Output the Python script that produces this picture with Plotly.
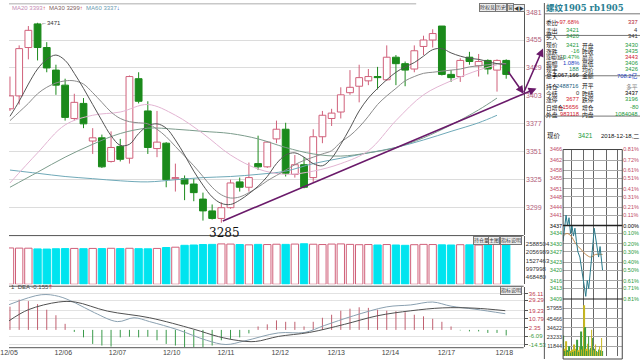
import plotly.graph_objects as go

# ---------------- data ----------------
idx = list(range(1, 56))
opens = [3391, 3403, 3448, 3470, 3448, 3427, 3413, 3382, 3396, 3361,
         3364, 3342, 3356, 3345, 3419, 3389, 3354, 3359, 3326, 3326,
         3321, 3307, 3296, 3289, 3299, 3323, 3318, 3340, 3337, 3363,
         3372, 3330, 3339, 3327, 3365, 3382, 3388, 3406, 3412, 3417,
         3421, 3418, 3439, 3433, 3428, 3449, 3455, 3468, 3423, 3421,
         3439, 3431, 3436, 3427, 3436]
highs = [3421, 3450, 3468, 3471, 3453, 3432, 3419, 3405, 3401, 3373,
         3367, 3370, 3363, 3422, 3425, 3398, 3389, 3360, 3340, 3329,
         3326, 3313, 3302, 3304, 3325, 3327, 3341, 3366, 3361, 3380,
         3378, 3348, 3346, 3372, 3389, 3391, 3411, 3427, 3432, 3428,
         3430, 3450, 3441, 3435, 3450, 3459, 3465, 3468, 3427, 3438,
         3444, 3442, 3437, 3437, 3437]
lows = [3389, 3395, 3437, 3436, 3425, 3404, 3380, 3380, 3373, 3349,
        3336, 3341, 3342, 3340, 3396, 3349, 3346, 3318, 3314, 3306,
        3305, 3287, 3288, 3285, 3298, 3314, 3314, 3334, 3336, 3359,
        3328, 3327, 3317, 3323, 3359, 3375, 3382, 3404, 3397, 3413,
        3409, 3417, 3413, 3412, 3425, 3441, 3448, 3422, 3416, 3416,
        3432, 3421, 3423, 3407, 3419]
closes = [3403, 3447, 3464, 3448, 3429, 3413, 3383, 3397, 3377, 3364,
          3337, 3355, 3344, 3421, 3398, 3355, 3360, 3325, 3327, 3321,
          3313, 3296, 3289, 3299, 3322, 3318, 3327, 3337, 3360, 3372,
          3331, 3339, 3318, 3365, 3385, 3387, 3404, 3411, 3420, 3421,
          3420, 3439, 3433, 3427, 3445, 3455, 3461, 3423, 3420, 3436,
          3435, 3435, 3428, 3436, 3423]

date_ticks = [0.9, 6.8, 12.7, 18.6, 24.5, 30.4, 36.5, 42.4, 48.5, 54.8]
date_labels = ["12/05", "12/06", "12/07", "12/10", "12/11", "12/12",
               "12/13", "12/14", "12/17", "12/18"]
price_ticks = [3481, 3455, 3429, 3403, 3377, 3351, 3325, 3299]

ma5 = [3384, 3398, 3414, 3428, 3437, 3441, 3436, 3424, 3410, 3395,
       3380, 3366, 3357, 3358, 3368, 3375, 3377, 3373, 3362, 3348,
       3333, 3320, 3309, 3303, 3302, 3306, 3312, 3319, 3328, 3340,
       3348, 3350, 3346, 3340, 3338, 3345, 3358, 3373, 3389, 3401,
       3410, 3418, 3425, 3430, 3434, 3440, 3446, 3447, 3443, 3440,
       3438, 3437, 3435, 3433, 3432]
ma10 = [3380, 3388, 3396, 3405, 3411, 3415, 3417, 3417, 3414, 3406,
        3397, 3388, 3382, 3379, 3378, 3377, 3372, 3365, 3356, 3347,
        3338, 3328, 3318, 3311, 3308, 3309, 3313, 3318, 3324, 3329,
        3334, 3339, 3343, 3346, 3349, 3352, 3360, 3366, 3374, 3384,
        3395, 3403, 3410, 3417, 3421, 3424, 3425, 3426, 3427, 3428,
        3430, 3431, 3432, 3433, 3433]
ma_x = [1, 4, 7, 10, 13, 16, 19, 22, 25, 28, 31, 34, 37, 40, 43, 46, 49, 52, 54]
ma20 = [3322, 3350, 3376, 3385, 3388, 3395, 3385, 3368, 3348, 3335, 3330, 3333,
        3340, 3352, 3380, 3404, 3417, 3427, 3432]
ma30 = [3318, 3332, 3346, 3358, 3368, 3373, 3372, 3370, 3368, 3363, 3355, 3349,
        3347, 3350, 3355, 3364, 3376, 3390, 3401]
ma60 = [3334, 3331, 3328, 3326, 3324, 3323, 3325, 3327, 3328, 3330, 3333, 3340,
        3345, 3350, 3355, 3362, 3370, 3378, 3385]

trend_x = [24, 58.3]
trend_y = [3286, 3410]
down_arrow_x = [55.1, 56.9]
down_arrow_y = [3427, 3405]
up_arrow_x = [56.85, 59.0]
up_arrow_y = [3405, 3447]

oi = [2330000, 2320000, 2315000, 2270000, 2260000, 2280000, 2290000, 2300000, 2285000, 2300000,
      2290000, 2310000, 2290000, 2310000, 2285000, 2275000, 2300000, 2360000, 2380000, 2500000,
      2520000, 2550000, 2560000, 2590000, 2580000, 2550000, 2530000, 2560000, 2550000, 2570000,
      2560000, 2580000, 2600000, 2570000, 2550000, 2580000, 2590000, 2560000, 2540000, 2550000,
      2520000, 2550000, 2520000, 2500000, 2540000, 2560000, 2550000, 2530000, 2520000, 2540000,
      2530000, 2520000, 2540000, 2550000, 2520000]
oi_cyan = "HHHCCCCHCHCHCHCCHCHCCCCHHCHCHHCHCHHHHHHHCHCCHHHCCHCHCHC"
oi_ticks = [2588504, 2056989, 1527463, 997998, 468480]

macd_hist = [23, 30, 28.5, 25.5, 20, 14.5, 6, -2, -7.4, -13.9,
             -15.5, -16.5, -7.4, -6.8, -7.4, -6.8, -10.3, -13.9, -15.5, -17.1,
             -17.1, -17.1, -15.5, -10.3, -8.9, -7.4, -3.5, 3.4, 5.5, 9.4,
             8, 8, 3.4, 8, 12, 15, 19, 21, 22.4, 21.8,
             20, 19, 18.5, 17.5, 15, 13.4, 11, 8, 3.4, -0.5,
             -1.5, -1.5, -3, -3, -5.5]
dif_x = [0.9, 4.4, 6.3, 8.1, 10.2, 12.7, 14.5, 16.2, 19.3, 22.4, 24.5, 26.5,
         30.2, 33.1, 35.2, 38.4, 42, 44.6, 47, 49, 51.6, 54.9]
dif = [25, 34.8, 33.2, 26.7, 17, 8.2, 12, 8.2, 0, -10.3, -14.5, -11,
       -3, -2.5, 4.3, 14, 22.8, 24.7, 27.6, 23.5, 20.5, 16]
dea_x = [0.9, 3, 6.3, 8.1, 11.6, 16.2, 21, 23.7, 25.9, 27.7, 30.2, 33.6, 37.4,
         41, 44.6, 48.1, 51.6, 54.9]
dea = [9, 20, 27.6, 27.6, 18.6, 12, 0.7, -6.7, -10.6, -11.5, -6.5, -2.5, 5.5,
       14, 18.9, 21.8, 21.5, 19]
macd_ticks = [36.11, 29.29, 19.23, 10.79, 2.35, -6.09, -14.53]

# right panel quote table
q_rows_y = [15, 23, 29, 39, 45, 51, 57, 63, 69, 80, 87, 94, 102, 109]
q_lab1 = ["委比", "卖出", "买入", "现价", "涨跌", "涨幅(结)", "振幅", "现手", "总手",
          "持仓", "今结", "涨停", "日增仓", "外盘"]
q_val1 = ["+97.68%", "3421", "3420", "3421", "-16", "-0.47%", "1.08%", "188",
          "2,067,166", "2488716", "0", "3677", "+15656", "983118"]
q_col1 = ["#d02030", "#1a9a3a", "#1a9a3a", "#1a9a3a", "#1a9a3a", "#1a9a3a", "#2040c0",
          "#1a8a6a", "#000000", "#206080", "#333333", "#d02030", "#d02030", "#d02030"]
q_lab2 = ["", "", "", "开盘", "昨收", "最高", "最低", "均价", "金额", "开平", "昨结",
          "跌停", "增仓", "内盘"]
q_val2 = ["337", "4", "341", "3430", "3435", "3443", "3406", "3426", "708.2亿",
          "多平", "3437", "3196", "-80", "1084048"]
q_col2 = ["#b02030", "#333333", "#333333", "#1a9a3a", "#1a9a3a", "#d02030", "#1a9a3a",
          "#1a9a3a", "#2040c0", "#888888", "#000000", "#1a9a3a", "#1a9a3a", "#1a9a3a"]

# intraday mini chart
id_ticks = [3466, 3462, 3458, 3455, 3451, 3448, 3444, 3441, 3437, 3434, 3430,
            3427, 3423, 3420, 3416, 3413, 3409]
id_pct = ["0.81%", "0.72%", "0.61%", "0.51%", "0.41%", "0.31%", "0.21%", "0.11%",
          "0.00%", "0.10%", "0.20%", "0.30%", "0.40%", "0.50%", "0.61%", "0.71%", "0.81%"]
id_t = [0, 1.5, 3, 4.5, 6, 7.5, 9, 10.5, 12, 13.5, 15, 17, 18.5, 20, 21.5, 23,
        24.5, 26, 27.5, 29, 30.5, 31.5, 33, 34.5, 36, 37.5, 39, 40]
id_p = [3431, 3436, 3441, 3437, 3440, 3434, 3437, 3433, 3436, 3431, 3427, 3425,
        3421, 3418, 3415, 3410, 3416, 3413, 3419, 3424, 3431, 3436, 3432, 3428,
        3425, 3429, 3424, 3420]
id_avg_t = [0, 4, 8, 13, 18, 23, 28, 33, 40]
id_avg = [3433, 3434, 3433, 3430, 3428, 3426, 3425, 3426, 3426]
iv_ticks = [57955, 45466, 34622, 23233, 11844]
iv = [25000, 9000, 6000, 18000, 7000, 5000, 12000, 6000, 4000, 8000, 5000,
      14000, 6000, 9000, 20000, 7000, 5000, 11000, 30000, 8000, 12000, 62000,
      35000, 9000, 6000, 15000, 24000, 8000, 10000, 32000, 22000, 7000, 9000,
      14000, 6000, 5000, 8000, 12000, 7000, 22000, 6000]
id_vgrid = [9, 21, 31, 44, 55]

# ---------------- helpers ----------------
W, H = 640, 362


def px(x):
    return x / W


def py(y):
    return 1 - y / H


RED = "#d0607a"
GREEN = "#1b8a1b"
CYAN = "#00e4ef"
PURPLE = "#6a1a6a"

fig = go.Figure()

# candles: wicks
up_x, up_y, dn_x, dn_y = [], [], [], []
for i, o, h, l, c in zip(idx, opens, highs, lows, closes):
    top, bot = max(o, c), min(o, c)
    seg_x = [i, i, None, i, i, None]
    seg_y = [h, top, None, bot, l, None]
    if c >= o:
        up_x += seg_x
        up_y += seg_y
    else:
        dn_x += seg_x
        dn_y += seg_y
fig.add_trace(go.Scatter(x=up_x, y=up_y, mode="lines", line=dict(color=RED, width=1),
                         hoverinfo="skip", xaxis="x", yaxis="y"))
fig.add_trace(go.Scatter(x=dn_x, y=dn_y, mode="lines", line=dict(color=GREEN, width=1),
                         hoverinfo="skip", xaxis="x", yaxis="y"))
# candle bodies
fig.add_trace(go.Bar(
    x=idx, y=[max(abs(c - o), 0.8) for o, c in zip(opens, closes)],
    base=[min(o, c) for o, c in zip(opens, closes)], width=0.74,
    marker=dict(color=["white" if c >= o else GREEN for o, c in zip(opens, closes)],
                line=dict(color=[RED if c >= o else GREEN for o, c in zip(opens, closes)], width=1)),
    xaxis="x", yaxis="y", hoverinfo="skip"))

# moving averages
fig.add_trace(go.Scatter(x=ma_x, y=ma60, mode="lines", line=dict(color="#6fa9b8", width=1, shape="spline"),
                         xaxis="x", yaxis="y"))
fig.add_trace(go.Scatter(x=ma_x, y=ma30, mode="lines", line=dict(color="#7c9c8c", width=1, shape="spline"),
                         xaxis="x", yaxis="y"))
fig.add_trace(go.Scatter(x=ma_x, y=ma20, mode="lines", line=dict(color="#e2b4d2", width=1, shape="spline"),
                         xaxis="x", yaxis="y"))
fig.add_trace(go.Scatter(x=idx, y=ma10, mode="lines", line=dict(color="#8c8c8c", width=1, shape="spline"),
                         xaxis="x", yaxis="y"))
fig.add_trace(go.Scatter(x=idx, y=ma5, mode="lines", line=dict(color="#555555", width=1, shape="spline"),
                         xaxis="x", yaxis="y"))

# open-interest bars
fig.add_trace(go.Bar(
    x=idx, y=oi, width=0.8,
    marker=dict(color=[CYAN if k == "C" else "white" for k in oi_cyan],
                line=dict(color=[CYAN if k == "C" else RED for k in oi_cyan], width=1)),
    xaxis="x", yaxis="y2", hoverinfo="skip"))

# MACD histogram
hp_x, hp_y, hn_x, hn_y = [], [], [], []
for i, v in zip(idx, macd_hist):
    if v >= 0:
        hp_x += [i, i, None]
        hp_y += [0, v, None]
    else:
        hn_x += [i, i, None]
        hn_y += [0, v, None]
fig.add_trace(go.Scatter(x=hp_x, y=hp_y, mode="lines", line=dict(color="#c06070", width=1),
                         xaxis="x", yaxis="y3"))
fig.add_trace(go.Scatter(x=hn_x, y=hn_y, mode="lines", line=dict(color="#3a9a4a", width=1),
                         xaxis="x", yaxis="y3"))
fig.add_trace(go.Scatter(x=dif_x, y=dif, mode="lines", line=dict(color="#8aa0b0", width=1, shape="spline"),
                         xaxis="x", yaxis="y3"))
fig.add_trace(go.Scatter(x=dea_x, y=dea, mode="lines", line=dict(color="#505050", width=1, shape="spline"),
                         xaxis="x", yaxis="y3"))

# intraday chart
fig.add_trace(go.Bar(x=list(range(len(iv))), y=iv, width=0.7,
                     marker=dict(color=["#3a9a3a" if k % 2 == 0 else "#c8b820" for k in range(len(iv))],
                                 line=dict(width=0)),
                     xaxis="x2", yaxis="y5"))
fig.add_trace(go.Scatter(x=id_avg_t, y=id_avg, mode="lines", line=dict(color="#c08a50", width=1, shape="spline"),
                         xaxis="x2", yaxis="y4"))
fig.add_trace(go.Scatter(x=id_t, y=id_p, mode="lines", line=dict(color="#2a7a8a", width=1),
                         xaxis="x2", yaxis="y4"))
fig.add_trace(go.Scatter(x=[None], y=[None], xaxis="x2", yaxis="y6", showlegend=False))


def colspan(t, c):
    return f"<span style='color:{c}'>{t}</span>"


macd_text = [colspan(f"{v:.2f}", "#c03a50" if v > 0 else "#3a9a3a") for v in macd_ticks]
id_text = [colspan(str(v), "#c04a66" if v > 3437 else ("#000000" if v == 3437 else "#2a9a3a")) for v in id_ticks]
pct_text = [colspan(t, "#c04a66" if k < 8 else ("#000000" if k == 8 else "#2a9a3a")) for k, t in enumerate(id_pct)]

FONT = "Liberation Sans, Noto Sans CJK SC, sans-serif"

fig.update_layout(
    width=W, height=H, margin=dict(l=0, r=0, t=0, b=0),
    paper_bgcolor="white", plot_bgcolor="white", showlegend=False,
    barmode="overlay", font=dict(family=FONT, size=7, color="#333"),
    xaxis=dict(domain=[0, px(522)], range=[0.893, 56.9], anchor="y3",
               tickvals=date_ticks, ticktext=date_labels, tickfont=dict(size=7, color="#444"),
               ticklabeloverflow="allow",
               showgrid=False, zeroline=False, showline=False, ticks=""),
    yaxis=dict(domain=[py(236), py(9)], range=[3273.5, 3481.2], side="right", anchor="x",
               tickvals=price_ticks, tickfont=dict(size=7, color="#b0607a"),
               showgrid=True, gridcolor="#dcdcdc", zeroline=False,
               showline=True, linecolor="#555", ticks=""),
    yaxis2=dict(domain=[py(286), py(237)], range=[0, 3093578], side="right", anchor="x",
                tickvals=oi_ticks, ticktext=[str(v) for v in oi_ticks],
                tickfont=dict(size=6, color="#333"), showgrid=False, zeroline=False,
                showline=True, linecolor="#555", ticks=""),
    yaxis3=dict(domain=[py(350), py(289)], range=[-17.14, 42.26], side="right", anchor="x",
                tickvals=macd_ticks, ticktext=macd_text, tickfont=dict(size=6),
                showgrid=True, gridcolor="#e2e2e2", zeroline=False,
                showline=True, linecolor="#555", ticks="outside", ticklen=3, tickcolor="#555"),
    xaxis2=dict(domain=[px(562), px(622)], range=[0, 60], anchor="y5",
                showticklabels=False, tickvals=id_vgrid, showgrid=True, gridcolor="#666",
                zeroline=False, ticks=""),
    yaxis4=dict(domain=[py(301), py(149)], range=[3409, 3466], anchor="x2", side="left",
                tickvals=id_ticks, ticktext=id_text, tickfont=dict(size=5.5),
                showgrid=True, gridcolor="#a8a8a8", zeroline=False, ticks=""),
    yaxis6=dict(overlaying="y4", anchor="x2", side="right", range=[3409, 3466],
                tickvals=id_ticks, ticktext=pct_text, tickfont=dict(size=5.5),
                showgrid=False, zeroline=False, ticks=""),
    yaxis5=dict(domain=[py(359), py(301)], range=[0, 69500], anchor="x2", side="left",
                tickvals=iv_ticks, ticktext=[str(v) for v in iv_ticks],
                tickfont=dict(size=5.5, color="#333"),
                showgrid=True, gridcolor="#a8a8a8", zeroline=False, ticks=""),
)

shapes = []
# panel separators of the main chart
for yy in (236.5, 288, 350.5):
    shapes.append(dict(type="line", xref="paper", yref="paper", x0=0, x1=px(522),
                       y0=py(yy), y1=py(yy), line=dict(color="#555", width=1)))
shapes.append(dict(type="rect", xref="paper", yref="paper", x0=0, x1=px(413), y0=py(1.5), y1=1,
                   fillcolor="#c8c8c8", line=dict(width=0)))
# right panel
shapes.append(dict(type="line", xref="paper", yref="paper", x0=px(543), x1=px(543), y0=0, y1=1,
                   line=dict(color="#555", width=1)))
for yy in (11, 33, 74, 115):
    shapes.append(dict(type="line", xref="paper", yref="paper", x0=px(543), x1=1,
                       y0=py(yy), y1=py(yy), line=dict(color="#777", width=1)))
shapes.append(dict(type="rect", xref="x2 domain", yref="paper", x0=0, x1=1, y0=0, y1=py(149),
                   line=dict(color="#444", width=1)))
shapes.append(dict(type="line", xref="x2 domain", yref="y4", x0=0, x1=1, y0=3437, y1=3437,
                   line=dict(color="#222", width=1.5)))
shapes.append(dict(type="line", xref="x2 domain", yref="paper", x0=0, x1=1, y0=py(301), y1=py(301),
                   line=dict(color="#222", width=1.2)))
fig.update_layout(shapes=shapes)

ann = []
# MA legend
ann.append(dict(xref="paper", yref="paper", x=px(2), y=py(5), xanchor="left", yanchor="middle",
                showarrow=False, font=dict(size=6), borderpad=0,
                text=colspan("MA20 3393", "#c48ab4") + colspan("↑", "#d02030") + "  "
                + colspan("MA30 3299", "#806060") + colspan("↑", "#d02030") + "  "
                + colspan("MA60 3337", "#6a9ab0") + colspan("↓", "#2050c0")))
# buttons
for t, xc, yc in [("除权息", 485, 5), ("历史", 499, 5), ("窗", 509, 5), ("◀▶", 517, 5),
                  ("持仓量", 479, 241), ("主图", 492, 241), ("指标说明", 509, 241),
                  ("指标说明", 509, 292.5)]:
    ann.append(dict(xref="paper", yref="paper", x=px(xc), y=py(yc), xanchor="center", yanchor="middle",
                    text=t, showarrow=False,
                    font=dict(size=5, color="#333"), bgcolor="#eeeeee", bordercolor="#777",
                    borderwidth=1, borderpad=0))
# MACD legend
ann.append(dict(xref="paper", yref="paper", x=px(1), y=py(292.5), xanchor="left", showarrow=False,
                font=dict(size=6, color="#444"), borderpad=0,
                text="1  DEA -0.155" + colspan("⇑", "#d02030")))
# price labels
ann.append(dict(x=4, y=3471, xref="x", yref="y", xanchor="left", xshift=2, showarrow=False,
                text="←3471", font=dict(size=6, color="#333"), borderpad=0))
ann.append(dict(x=24.3, y=3285, xref="x", yref="y", xanchor="center", yanchor="top", yshift=-2,
                showarrow=False, text="3285",
                font=dict(size=12, color="#111", family="DejaVu Serif, serif"), borderpad=0))
# drawn trend line and arrows
for xs, ys in [(trend_x, trend_y), (down_arrow_x, down_arrow_y), (up_arrow_x, up_arrow_y)]:
    ann.append(dict(x=xs[1], y=ys[1], ax=xs[0], ay=ys[0], xref="x", yref="y", axref="x", ayref="y",
                    text="", showarrow=True, arrowhead=2, arrowsize=1, arrowwidth=1.6,
                    arrowcolor=PURPLE))
# right panel title and table
ann.append(dict(xref="paper", yref="paper", x=px(584), y=py(5.5), xanchor="center", yanchor="middle",
                text="<b>螺纹1905 rb1905</b>", showarrow=False, borderpad=0,
                font=dict(size=8.5, color="#2a7f93", family="DejaVu Serif, Noto Sans CJK SC, serif")))
for yy, l1, v1, c1, l2, v2, c2 in zip(q_rows_y, q_lab1, q_val1, q_col1, q_lab2, q_val2, q_col2):
    ann.append(dict(xref="paper", yref="paper", x=px(544), y=py(yy), xanchor="left", text=l1,
                    showarrow=False, borderpad=0,
                    font=dict(size=5 if len(l1) > 3 else 5.8, color="#111")))
    ann.append(dict(xref="paper", yref="paper", x=px(579), y=py(yy), xanchor="right", text=v1,
                    showarrow=False, borderpad=0, font=dict(size=5.8, color=c1)))
    if l2:
        ann.append(dict(xref="paper", yref="paper", x=px(580.5), y=py(yy), xanchor="left", text=l2,
                        showarrow=False, borderpad=0, font=dict(size=5.8, color="#111")))
    ann.append(dict(xref="paper", yref="paper", x=px(639), y=py(yy), xanchor="right", text=v2,
                    showarrow=False, borderpad=0, font=dict(size=5.8, color=c2)))
ann.append(dict(xref="paper", yref="paper", x=px(545), y=py(135), xanchor="left", text="现价",
                showarrow=False, borderpad=0, font=dict(size=6.5, color="#111")))
ann.append(dict(xref="paper", yref="paper", x=px(585), y=py(135), xanchor="center", text="3421",
                showarrow=False, borderpad=0, font=dict(size=6.5, color="#1a9a3a")))
ann.append(dict(xref="paper", yref="paper", x=px(640), y=py(135), xanchor="right", text="2018-12-18,二",
                showarrow=False, borderpad=0, font=dict(size=6, color="#111")))
fig.update_layout(annotations=ann)

fig.write_html("out.html", config={"displayModeBar": False},
               post_script="document.body.style.margin='0';document.body.style.padding='0';"
                           "document.documentElement.style.overflow='hidden';")
